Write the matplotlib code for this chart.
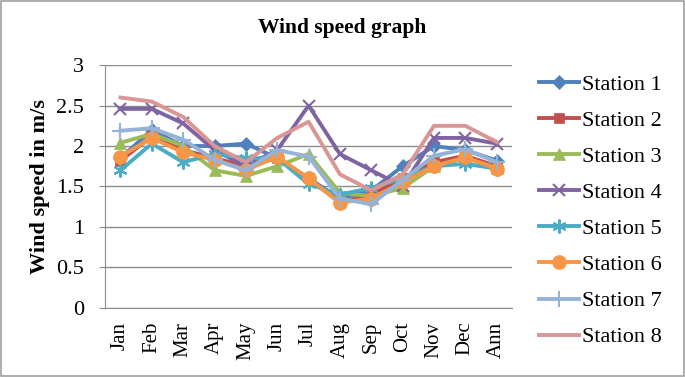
import matplotlib
matplotlib.use("Agg")
import matplotlib.pyplot as plt
from matplotlib.patches import Rectangle

months = ["Jan", "Feb", "Mar", "Apr", "May", "Jun", "Jul", "Aug", "Sep", "Oct", "Nov", "Dec", "Ann"]
station_names = ["Station 1", "Station 2", "Station 3", "Station 4", "Station 5", "Station 6", "Station 7", "Station 8"]

station1 = [1.85, 2.2, 2.0, 2.0, 2.03, 1.85, 1.6, 1.35, 1.45, 1.75, 2.0, 1.95, 1.82]
station2 = [1.82, 2.12, 1.95, 1.85, 1.75, 1.85, 1.6, 1.3, 1.4, 1.6, 1.8, 1.88, 1.75]
station3 = [2.04, 2.15, 2.0, 1.7, 1.63, 1.75, 1.9, 1.42, 1.38, 1.48, 1.75, 1.85, 1.73]
station4 = [2.46, 2.46, 2.28, 1.95, 1.75, 1.95, 2.5, 1.9, 1.7, 1.5, 2.1, 2.1, 2.03]
station5 = [1.7, 2.03, 1.8, 1.9, 1.85, 1.85, 1.53, 1.4, 1.48, 1.6, 1.75, 1.78, 1.72]
station6 = [1.87, 2.1, 1.92, 1.83, 1.7, 1.87, 1.6, 1.3, 1.35, 1.55, 1.75, 1.86, 1.72]
station7 = [2.19, 2.22, 2.08, 1.83, 1.7, 1.95, 1.87, 1.35, 1.28, 1.58, 1.88, 1.96, 1.8]
station8 = [2.6, 2.55, 2.36, 2.0, 1.8, 2.1, 2.3, 1.65, 1.45, 1.65, 2.25, 2.25, 2.05]

series = [station1, station2, station3, station4, station5, station6, station7, station8]
colors = ["#4F81BD", "#C0504D", "#9BBB59", "#8064A2", "#4BACC6", "#F79646", "#95B3D7", "#D99694"]
markers = ["D", "s", "^", "x", (6, 2, 0), "o", "+", None]
msizes = [7, 7, 8, 9, 10, 10, 11, 0]

plt.rcParams["font.family"] = ["Liberation Serif", "DejaVu Serif"]

fig = plt.figure(figsize=(6.85, 3.77), dpi=100)
fig.patches.append(Rectangle((0.002, 0.003), 0.996, 0.994, transform=fig.transFigure,
                             fill=False, edgecolor="#A0A0A0", linewidth=1.2))
ax = fig.add_axes([0.153, 0.184, 0.595, 0.643])

x = list(range(len(months)))
for vals, name, c, m, ms in zip(series, station_names, colors, markers, msizes):
    ax.plot(x, vals, color=c, linewidth=2.8, marker=m, markersize=ms,
            markeredgewidth=1.5 if m in ("x", "+", (6, 2, 0)) else 0.5,
            markeredgecolor=c, label=name)

ax.set_xlim(-0.5, len(months) - 0.5)
ax.set_ylim(0, 3)
ax.set_yticks([0, 0.5, 1, 1.5, 2, 2.5, 3])
ax.set_yticklabels(["0", "0.5", "1", "1.5", "2", "2.5", "3"], fontsize=16)
ax.set_xticks(x)
ax.set_xticklabels(months, rotation=90, fontsize=15)
ax.tick_params(axis="y", length=4, color="#8C8C8C", pad=11)
ax.tick_params(axis="x", length=0, pad=10)
ax.grid(axis="y", color="#8C8C8C", linewidth=1)
ax.set_axisbelow(True)
for side in ["top", "right"]:
    ax.spines[side].set_visible(False)
for side in ["left", "bottom"]:
    ax.spines[side].set_color("#8C8C8C")

ax.set_ylabel("Wind speed in m/s", fontsize=16, fontweight="bold")
ax.yaxis.label.set_va("center")
ax.yaxis.set_label_coords(-0.158, 0.5)
fig.text(0.5, 0.925, "Wind speed graph", ha="center", va="center", fontsize=15.5, fontweight="bold")

ax.legend(loc="upper left", bbox_to_anchor=(1.043, 1.0), frameon=False, fontsize=16,
          handlelength=1.8, handletextpad=0.15, labelspacing=0.7, borderaxespad=0)

fig.savefig("out.png", dpi=100)
